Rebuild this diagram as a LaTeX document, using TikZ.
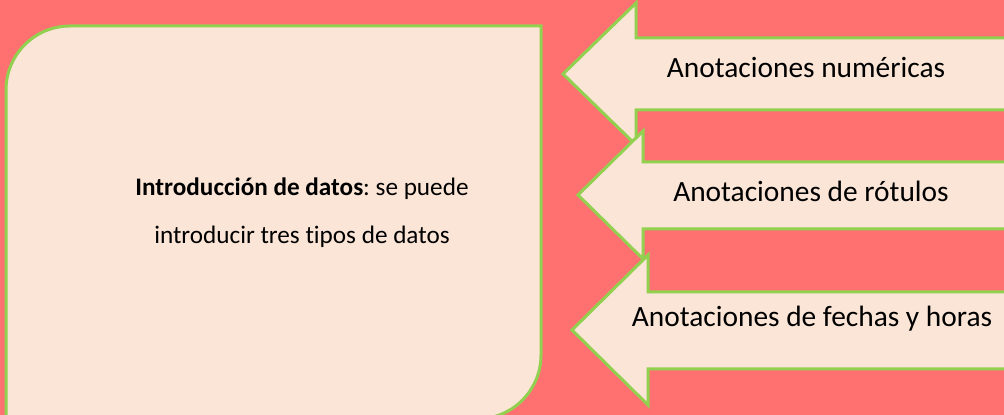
\documentclass[tikz,border=0pt]{standalone}
\usepackage{fontspec}
\setmainfont{Carlito}[Ligatures=NoCommon]
\definecolor{fondo}{HTML}{FF7171}
\definecolor{relleno}{HTML}{FBE5D6}
\definecolor{borde}{HTML}{92D050}
\frenchspacing
\begin{document}
\begin{tikzpicture}[x=0.5pt,y=0.5pt,
		forma/.style={fill=relleno,draw=borde,line width=1.5pt,line join=miter},
		texto/.style={font=\fontsize{14.7}{17}\selectfont,inner sep=0pt,anchor=base}]
	\useasboundingbox (0,0) rectangle (1004,415);
	\clip (0,0) rectangle (1004,415);
		\fill[fondo] (0,0) rectangle (1004,415);
		\filldraw[forma] (6,-10) -- (6,325) arc (180:90:32pt) -- (541,389) -- (541,60) arc (0:-90:32pt) -- cycle;
		\node[font=\fontsize{12.6}{24}\selectfont,align=center] (datos) at (302,202) {\textbf{Introducción de datos}: se puede\\introducir tres tipos de datos};
		\filldraw[forma] (563,341) -- (636,412) -- (636,377) -- (1040,377) -- (1040,305) -- (636,305) -- (636,270) -- cycle;
		\node[texto] (numericas) at (806,337) {Anotaciones numéricas};
		\filldraw[forma] (578,220) -- (643,284) -- (643,253) -- (1040,253) -- (1040,186) -- (643,186) -- (643,156) -- cycle;
		\node[texto] (rotulos) at (811,213) {Anotaciones de rótulos};
		\filldraw[forma] (572,85) -- (648,160) -- (648,123) -- (1040,123) -- (1040,46) -- (648,46) -- (648,10) -- cycle;
		\node[texto] (fechas) at (812,88) {Anotaciones de fechas y horas};
\end{tikzpicture}
\end{document}
